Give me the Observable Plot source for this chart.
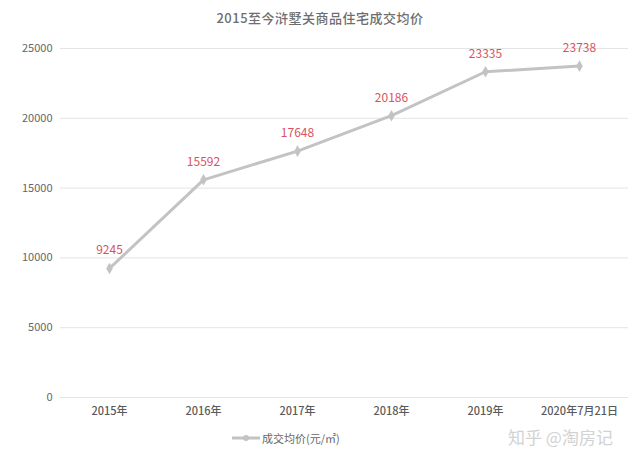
<!DOCTYPE html>
<html><head><meta charset="utf-8">
<script src="https://cdn.jsdelivr.net/npm/d3@7"></script>
<script src="https://cdn.jsdelivr.net/npm/@observablehq/plot@0.6"></script>
<style>
body{margin:0;background:#fff;font-family:"Noto Sans CJK SC","DejaVu Sans",sans-serif;}
#wrap{position:relative;width:640px;height:461px;overflow:hidden;}
#title{position:absolute;left:0;top:8px;width:640px;text-align:center;font-size:13px;font-weight:500;color:#6e6e6e;letter-spacing:0.5px;}
#legend{position:absolute;left:232px;top:430px;font-size:11px;color:#666;display:flex;align-items:center;}
#wm{position:absolute;left:508px;top:424px;font-size:17px;color:#d2d2d2;}
</style></head>
<body><div id="wrap">
<div id="title">2015至今浒墅关商品住宅成交均价</div>
<div id="chart"></div>
<div id="legend"><svg width="28" height="10"><line x1="0" y1="5" x2="28" y2="5" stroke="#c3c3c3" stroke-width="3"/><circle cx="14" cy="5" r="3" fill="#c3c3c3"/></svg><span style="margin-left:2px">成交均价(元/㎡)</span></div>
<div id="wm">知乎 @淘房记</div>
</div>
<script>
const years = ["2015年","2016年","2017年","2018年","2019年","2020年7月21日"];
const prices = [9245,15592,17648,20186,23335,23738];
const yTicks = [0,5000,10000,15000,20000,25000];
const data = years.map((y,i)=>({year:y, price:prices[i]}));
const chart = Plot.plot({
  width:640, height:461,
  marginTop:48, marginBottom:64, marginLeft:60, marginRight:12,
  style:{fontFamily:'"Noto Sans CJK SC","DejaVu Sans",sans-serif', background:"transparent"},
  x:{type:"point", domain:years, padding:0.5, label:null, tickSize:0, tickPadding:10},
  y:{domain:[0,25000], ticks:yTicks, label:null, tickSize:0, tickPadding:8},
  marks:[
    Plot.gridY(yTicks,{stroke:"#e4e4e4", strokeOpacity:1}),
    Plot.axisY({ticks:yTicks, tickFormat:d=>String(d), tickSize:0, tickPadding:8, fontSize:11, fill:"#666", label:null}),
    Plot.axisX({tickSize:0, tickPadding:10, fontSize:11, fill:"#5a5a5a", fontWeight:"500", label:null}),
    Plot.line(data,{x:"year", y:"price", stroke:"#c3c3c3", strokeWidth:3}),
    Plot.dot(data,{x:"year", y:"price", fill:"#c3c3c3", r:3.5, symbol:"diamond"}),
    Plot.text(data,{x:"year", y:"price", text:d=>String(d.price), dy:-18, fill:"#d9525e", fontSize:12})
  ]
});
document.getElementById("chart").appendChild(chart);
</script>
</body></html>
